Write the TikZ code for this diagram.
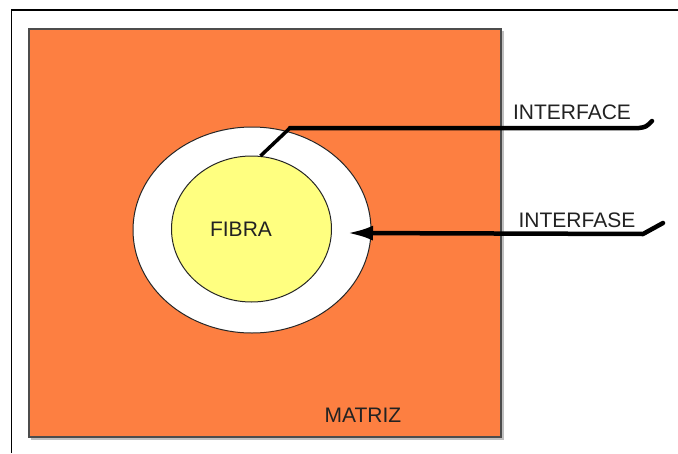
\documentclass[tikz,border=0pt]{standalone}
\usepackage{fontspec}
\setmainfont{Liberation Sans}
\usetikzlibrary{arrows.meta, shapes.geometric}
\definecolor{matrizcol}{HTML}{FD7F41}
\definecolor{fibracol}{HTML}{FFFF80}
\definecolor{inkcol}{HTML}{222222}
\begin{document}
\begin{tikzpicture}[x=1pt,y=-1pt,
  lbl/.style={font=\fontsize{21}{21}\selectfont, text=inkcol, inner sep=0pt},
  leader/.style={draw=black, line width=4.5pt, line cap=round, line join=round},
  ring/.style={ellipse, draw=black!85, line width=1pt, inner sep=0pt}]
\useasboundingbox (0,0) rectangle (678,453);
\fill[white] (0,0) rectangle (678,453);
% frame
\draw[line width=1.5pt] (11.5,453) -- (11.5,10) -- (678,10);
% shadow of the matrix
\fill[black!25] (31,31) rectangle (504,440);
% matrix
\node[draw=black!70, line width=2pt, fill=matrizcol, minimum width=472pt, minimum height=408pt, inner sep=0pt] (mat) at (265,233) {};
% interphase ring and fibre
\node[ring, fill=white, minimum width=238pt, minimum height=206pt] (outer) at (252,230) {};
\node[ring, fill=fibracol, minimum width=160pt, minimum height=146pt] (inner) at (251.5,229) {};
% labels
\node[lbl] (fibra) at (241,229) {FIBRA};
\node[lbl] (matriz) at (363,415) {MATRIZ};
\node[lbl] (interface) at (572,112) {INTERFACE};
\node[lbl] (interfase) at (577,220) {INTERFASE};
% interface leader
\coordinate (ifend) at (652,121);
\coordinate (ifa) at (639,128);
\coordinate (ifbend) at (290,128);
\draw[leader] (ifend) .. controls (646,127) .. (ifa) -- (ifbend);
\draw[draw=black, line width=3.5pt] (ifbend) -- (inner.83);
% interfase arrow
\coordinate (isend) at (663,223);
\coordinate (isa) at (643,234);
\coordinate (istip) at (347,233);
\draw[leader, -{Latex[length=26pt,width=15pt]}] (isend) -- (isa) -- (istip);
\end{tikzpicture}
\end{document}
